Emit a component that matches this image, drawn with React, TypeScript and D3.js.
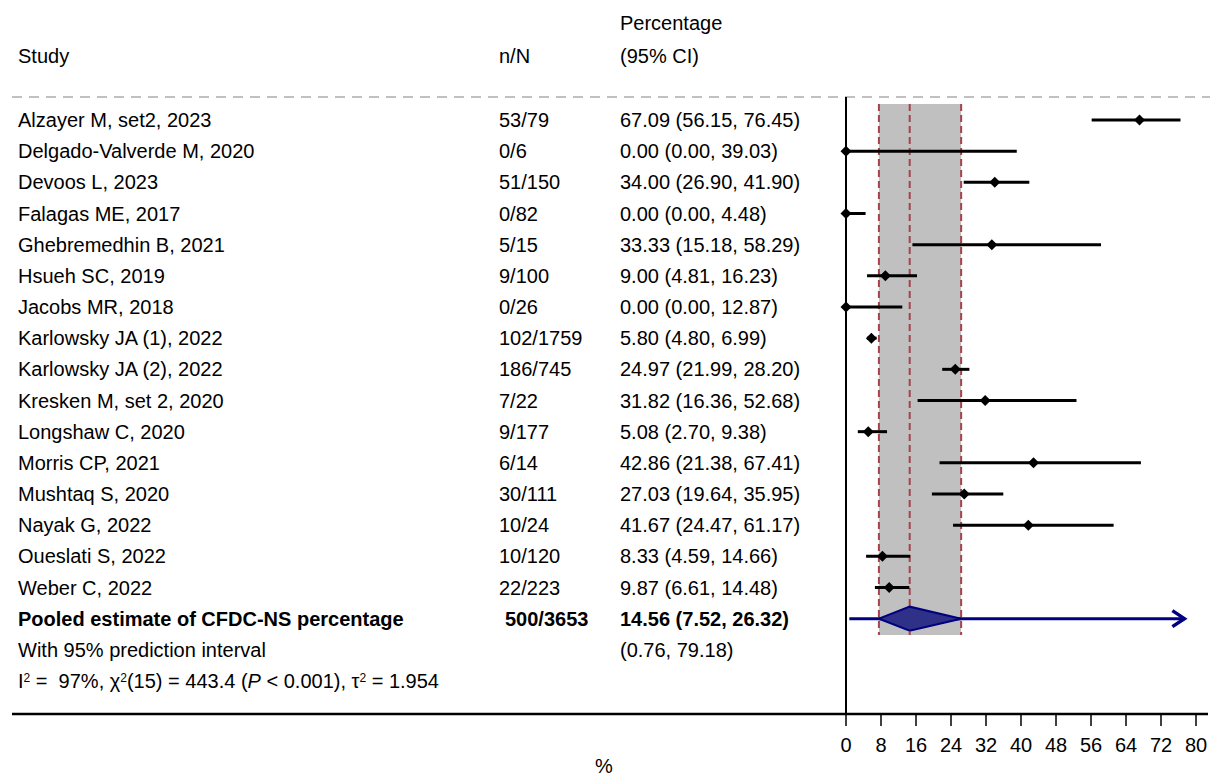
import React from "react";
import * as d3 from "d3";

const studies = [
  "Alzayer M, set2, 2023",
  "Delgado-Valverde M, 2020",
  "Devoos L, 2023",
  "Falagas ME, 2017",
  "Ghebremedhin B, 2021",
  "Hsueh SC, 2019",
  "Jacobs MR, 2018",
  "Karlowsky JA (1), 2022",
  "Karlowsky JA (2), 2022",
  "Kresken M, set 2, 2020",
  "Longshaw C, 2020",
  "Morris CP, 2021",
  "Mushtaq S, 2020",
  "Nayak G, 2022",
  "Oueslati S, 2022",
  "Weber C, 2022",
];
const nN = ["53/79", "0/6", "51/150", "0/82", "5/15", "9/100", "0/26", "102/1759", "186/745", "7/22", "9/177", "6/14", "30/111", "10/24", "10/120", "22/223"];
const est = [67.09, 0.0, 34.0, 0.0, 33.33, 9.0, 0.0, 5.8, 24.97, 31.82, 5.08, 42.86, 27.03, 41.67, 8.33, 9.87];
const lo = [56.15, 0.0, 26.9, 0.0, 15.18, 4.81, 0.0, 4.8, 21.99, 16.36, 2.7, 21.38, 19.64, 24.47, 4.59, 6.61];
const hi = [76.45, 39.03, 41.9, 4.48, 58.29, 16.23, 12.87, 6.99, 28.2, 52.68, 9.38, 67.41, 35.95, 61.17, 14.66, 14.48];

const pooledLabel = "Pooled estimate of CFDC-NS percentage";
const pooledNN = "500/3653";
const pooled = { est: 14.56, lo: 7.52, hi: 26.32 };
const predLabel = "With 95% prediction interval";
const pred = { lo: 0.76, hi: 79.18 };
const ticks = [0, 8, 16, 24, 32, 40, 48, 56, 64, 72, 80];

const FONT = "'Liberation Sans', Arial, Helvetica, sans-serif";
const fmt = d3.format(".2f");

export default function App() {
  const W = 1210;
  const H = 778;
  const x = d3.scaleLinear().domain([0, 80]).range([846, 1196]);
  const nRows = studies.length + 3;
  const y = d3.scalePoint<number>().domain(d3.range(nRows)).range([120, 681]);
  const pooledY = y(studies.length)!;
  const predY = y(studies.length + 1)!;
  const hetY = y(studies.length + 2)!;
  const fs = 20;
  const off = 7;
  const bandTop = 104;
  const bandBot = 635;
  const ms = 5.5;
  const tipX = x(pred.hi) - 8;

  return (
    <svg width={W} height={H} style={{ position: "absolute", left: 0, top: 0 }} fontFamily={FONT} fontSize={fs}>
      <rect width={W} height={H} fill="#fff" />
      {/* headers */}
      <text x={18} y={63}>Study</text>
      <text x={499} y={63}>n/N</text>
      <text x={620} y={30}>Percentage</text>
      <text x={620} y={63}>(95% CI)</text>
      <line x1={12} x2={1210} y1={97} y2={97} stroke="#c0c0c0" strokeWidth={2} strokeDasharray="10 7" />

      {/* shaded band */}
      <rect x={x(pooled.lo)} y={bandTop} width={x(pooled.hi) - x(pooled.lo)} height={bandBot - bandTop} fill="#c0c0c0" />
      {[pooled.lo, pooled.est, pooled.hi].map((v, i) => (
        <line key={i} x1={x(v)} x2={x(v)} y1={bandTop} y2={bandBot} stroke="#a3434c" strokeWidth={2} strokeDasharray="7 4" />
      ))}

      {/* vertical axis */}
      <line x1={x(0)} x2={x(0)} y1={97} y2={715} stroke="#000" strokeWidth={2} />

      {/* studies */}
      {studies.map((s, i) => {
        const yy = y(i)!;
        return (
          <g key={s}>
            <text x={18} y={yy + off}>{s}</text>
            <text x={499} y={yy + off}>{nN[i]}</text>
            <text x={620} y={yy + off}>{`${fmt(est[i])} (${fmt(lo[i])}, ${fmt(hi[i])})`}</text>
            <line x1={x(lo[i])} x2={x(hi[i])} y1={yy} y2={yy} stroke="#000" strokeWidth={3} />
            <path
              d={`M${x(est[i])},${yy - ms}L${x(est[i]) + ms},${yy}L${x(est[i])},${yy + ms}L${x(est[i]) - ms},${yy}Z`}
              fill="#000"
            />
          </g>
        );
      })}

      {/* pooled */}
      <text x={18} y={pooledY + off} fontWeight="bold">{pooledLabel}</text>
      <text x={505} y={pooledY + off} fontWeight="bold">{pooledNN}</text>
      <text x={620} y={pooledY + off} fontWeight="bold">{`${fmt(pooled.est)} (${fmt(pooled.lo)}, ${fmt(pooled.hi)})`}</text>
      <line x1={x(pred.lo)} x2={tipX} y1={pooledY} y2={pooledY} stroke="#000080" strokeWidth={3} />
      <path d={`M${tipX - 12},${pooledY - 8}L${tipX},${pooledY}L${tipX - 12},${pooledY + 8}`} fill="none" stroke="#000080" strokeWidth={3.5} />
      <path
        d={`M${x(pooled.lo)},${pooledY}L${x(pooled.est)},${pooledY - 12}L${x(pooled.hi)},${pooledY}L${x(pooled.est)},${pooledY + 12}Z`}
        fill="#2e3187"
        stroke="#000080"
        strokeWidth={2}
      />

      <text x={18} y={predY + off}>{predLabel}</text>
      <text x={620} y={predY + off}>{`(${fmt(pred.lo)}, ${fmt(pred.hi)})`}</text>

      <text x={18} y={hetY + off} style={{ whiteSpace: "pre" }}>
        <tspan>I</tspan>
        <tspan fontSize={12} dy={-6}>2</tspan>
        <tspan dy={6}>{" =  97%, χ"}</tspan>
        <tspan fontSize={12} dy={-6}>2</tspan>
        <tspan dy={6}>{"(15) = 443.4 ("}</tspan>
        <tspan fontStyle="italic">P</tspan>
        <tspan>{" < 0.001), τ"}</tspan>
        <tspan fontSize={12} dy={-6}>2</tspan>
        <tspan dy={6}>{" = 1.954"}</tspan>
      </text>

      {/* bottom axis */}
      <line x1={12} x2={1208} y1={714} y2={714} stroke="#000" strokeWidth={2.5} />
      {ticks.map((t) => (
        <g key={t}>
          <line x1={x(t)} x2={x(t)} y1={714} y2={726} stroke="#000" strokeWidth={1.5} />
          <text x={x(t)} y={752} textAnchor="middle">{t}</text>
        </g>
      ))}
      <text x={604} y={773} textAnchor="middle">%</text>
    </svg>
  );
}
